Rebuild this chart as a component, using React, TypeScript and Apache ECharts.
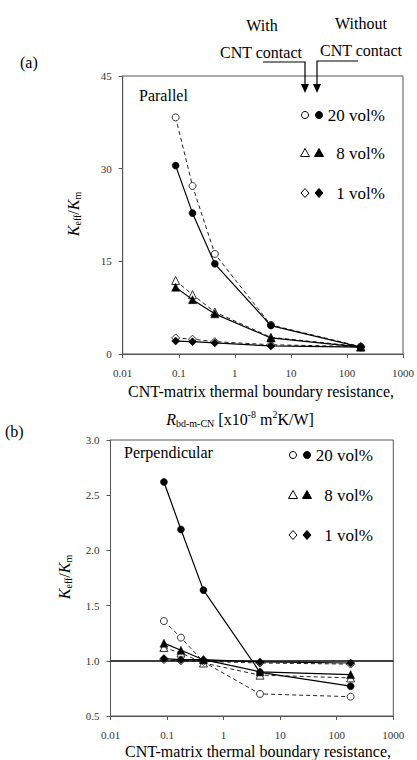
import React, { useEffect, useRef } from "react";
import * as echarts from "echarts";

// R_bd-m-CN values (x10^-8 m2K/W)
const X = [0.088, 0.176, 0.44, 4.4, 176];
const X_TICKS = ["0.01", "0.1", "1", "10", "100", "1000"];

// (a) Parallel
const parOpen20 = [38.3, 27.2, 16.2, 4.7, 1.2];
const parFill20 = [30.5, 22.8, 14.6, 4.6, 1.1];
const parOpen8 = [11.9, 9.6, 6.8, 2.7, 1.2];
const parFill8 = [10.8, 8.8, 6.5, 2.6, 1.1];
const parOpen1 = [2.6, 2.4, 2.0, 1.5, 1.2];
const parFill1 = [2.1, 2.0, 1.8, 1.3, 1.1];

// (b) Perpendicular
const perOpen20 = [1.36, 1.21, 0.99, 0.7, 0.675];
const perFill20 = [2.62, 2.19, 1.64, 0.895, 0.77];
const perOpen8 = [1.12, 1.07, 0.98, 0.87, 0.845];
const perFill8 = [1.16, 1.095, 1.01, 0.9, 0.875];
const perOpen1 = [1.01, 1.0, 0.995, 0.98, 0.97];
const perFill1 = [1.02, 1.01, 1.01, 0.99, 0.98];

const LEGEND = ["20 vol%", "8 vol%", "1 vol%"];
const SYMBOLS = ["circle", "triangle", "diamond"];

const FONT = "Liberation Serif";

function pair(vals: number[]) {
  return X.map((x, i) => [x, vals[i]]);
}

function mkSeries(vals: number[], sym: string, open: boolean, gi: number) {
  return {
    type: "line",
    xAxisIndex: gi,
    yAxisIndex: gi,
    data: pair(vals),
    symbol: sym,
    symbolSize: sym === "circle" ? 7 : 8,
    showSymbol: true,
    z: open ? 3 : 4,
    lineStyle: open
      ? { color: "#222", width: 1, type: [4, 3] }
      : { color: "#000", width: 1.2, type: "solid" },
    itemStyle: open
      ? { color: "#fff", borderColor: "#333", borderWidth: 1 }
      : { color: "#000", borderColor: "#000", borderWidth: 0.5 },
  };
}

function legendEls(symX1: number, symX2: number, textRight: number, ys: number[]) {
  const els: any[] = [];
  ys.forEach((y, i) => {
    const kind = SYMBOLS[i];
    [symX1, symX2].forEach((cx, j) => {
      const filled = j === 1;
      const style = { fill: filled ? "#000" : "#fff", stroke: "#000", lineWidth: 1 };
      if (kind === "circle") {
        els.push({ type: "circle", shape: { cx, cy: y, r: 3.5 }, style });
      } else if (kind === "triangle") {
        els.push({
          type: "polygon",
          shape: { points: [[cx, y - 4.5], [cx - 4.5, y + 3.5], [cx + 4.5, y + 3.5]] },
          style,
        });
      } else {
        els.push({
          type: "polygon",
          shape: { points: [[cx, y - 4.5], [cx + 4, y], [cx, y + 4.5], [cx - 4, y]] },
          style,
        });
      }
    });
    els.push({
      type: "text",
      x: textRight,
      y,
      style: {
        text: LEGEND[i],
        fontFamily: FONT,
        fontSize: 17,
        fill: "#000",
        align: "right",
        verticalAlign: "middle",
      },
    });
  });
  return els;
}

const richSub = {
  i: { fontStyle: "italic", fontFamily: FONT, fontSize: 16, fill: "#000" },
  sub: { fontFamily: FONT, fontSize: 10, padding: [9, 0, 0, 0], fill: "#000" },
  sup: { fontFamily: FONT, fontSize: 10, padding: [0, 0, 9, 0], fill: "#000" },
  n: { fontFamily: FONT, fontSize: 16, fill: "#000" },
};

function xAxis(gi: number) {
  return {
    type: "log",
    gridIndex: gi,
    logBase: 10,
    min: 0.01,
    max: 1000,
    axisLine: { lineStyle: { color: "#555", width: 1 } },
    axisTick: { show: true, inside: false, length: 4, lineStyle: { color: "#555" } },
    axisLabel: {
      margin: 13,
      fontFamily: FONT,
      fontSize: 11,
      color: "#333",
      formatter: (v: number) => {
        const idx = Math.round(Math.log10(v)) + 2;
        return X_TICKS[idx] ?? String(v);
      },
    },
    splitLine: { show: false },
    minorTick: { show: false },
  };
}

function yAxis(gi: number, min: number, max: number, interval: number, dec: number) {
  return {
    type: "value",
    gridIndex: gi,
    min,
    max,
    interval,
    axisLine: { show: true, lineStyle: { color: "#555", width: 1 } },
    axisTick: { show: true, inside: false, length: 4, lineStyle: { color: "#555" } },
    axisLabel: {
      margin: 11,
      fontFamily: FONT,
      fontSize: 11,
      color: "#333",
      formatter: (v: number) => v.toFixed(dec),
    },
    splitLine: { show: false },
  };
}

export default function App() {
  const ref = useRef<HTMLDivElement>(null);
  useEffect(() => {
    if (!ref.current) return;
    const chart = echarts.init(ref.current, undefined, { renderer: "svg" });

    const series: any[] = [
      mkSeries(parOpen20, "circle", true, 0),
      mkSeries(parFill20, "circle", false, 0),
      mkSeries(parOpen8, "triangle", true, 0),
      mkSeries(parFill8, "triangle", false, 0),
      mkSeries(parOpen1, "diamond", true, 0),
      mkSeries(parFill1, "diamond", false, 0),
      {
        type: "line",
        xAxisIndex: 1,
        yAxisIndex: 1,
        data: [],
        markLine: {
          silent: true,
          symbol: ["none", "none"],
          label: { show: false },
          lineStyle: { color: "#000", width: 1.5, type: "solid" },
          data: [{ yAxis: 1 }],
        },
      },
      mkSeries(perOpen20, "circle", true, 1),
      mkSeries(perFill20, "circle", false, 1),
      mkSeries(perOpen8, "triangle", true, 1),
      mkSeries(perFill8, "triangle", false, 1),
      mkSeries(perOpen1, "diamond", true, 1),
      mkSeries(perFill1, "diamond", false, 1),
    ];

    const graphic: any[] = [
      // panel labels
      { type: "text", x: 20, y: 62, style: { text: "(a)", fontFamily: FONT, fontSize: 16, fill: "#000", verticalAlign: "middle" } },
      { type: "text", x: 5, y: 431, style: { text: "(b)", fontFamily: FONT, fontSize: 16, fill: "#000", verticalAlign: "middle" } },
      // contact annotations
      { type: "text", x: 262, y: 25, style: { text: "With", fontFamily: FONT, fontSize: 16, fill: "#000", align: "center", verticalAlign: "middle" } },
      { type: "text", x: 261, y: 52, style: { text: "CNT contact", fontFamily: FONT, fontSize: 16, fill: "#000", align: "center", verticalAlign: "middle" } },
      { type: "text", x: 361, y: 23, style: { text: "Without", fontFamily: FONT, fontSize: 16, fill: "#000", align: "center", verticalAlign: "middle" } },
      { type: "text", x: 361, y: 50, style: { text: "CNT contact", fontFamily: FONT, fontSize: 16, fill: "#000", align: "center", verticalAlign: "middle" } },
      { type: "polyline", shape: { points: [[263, 62], [305, 62], [305, 85]] }, style: { stroke: "#000", lineWidth: 1.2, fill: null } },
      { type: "polyline", shape: { points: [[358, 61], [317, 61], [317, 85]] }, style: { stroke: "#000", lineWidth: 1.2, fill: null } },
      { type: "polygon", shape: { points: [[301, 84], [309, 84], [305, 93]] }, style: { fill: "#000" } },
      { type: "polygon", shape: { points: [[313, 84], [321, 84], [317, 93]] }, style: { fill: "#000" } },
      // panel titles
      { type: "text", x: 139, y: 95, style: { text: "Parallel", fontFamily: FONT, fontSize: 16, fill: "#000", verticalAlign: "middle" } },
      { type: "text", x: 124, y: 452, style: { text: "Perpendicular", fontFamily: FONT, fontSize: 16, fill: "#000", verticalAlign: "middle" } },
      // x titles
      { type: "text", x: 261, y: 391, style: { text: "CNT-matrix thermal boundary resistance,", fontFamily: FONT, fontSize: 16, fill: "#000", align: "center", verticalAlign: "middle" } },
      {
        type: "text",
        x: 240,
        y: 419,
        style: {
          text: "{i|R}{sub|bd-m-CN}{n| [x10}{sup|-8}{n| m}{sup|2}{n|K/W]}",
          rich: richSub,
          fontFamily: FONT,
          fontSize: 16,
          fill: "#000",
          align: "center",
          verticalAlign: "middle",
        },
      },
      { type: "text", x: 258, y: 751, style: { text: "CNT-matrix thermal boundary resistance,", fontFamily: FONT, fontSize: 16, fill: "#000", align: "center", verticalAlign: "middle" } },
      // y titles
      {
        type: "text",
        x: 73,
        y: 214,
        rotation: Math.PI / 2,
        style: { text: "{i|K}{sub|eff}{n|/}{i|K}{sub|m}", rich: richSub, fontFamily: FONT, fontSize: 16, fill: "#000", align: "center", verticalAlign: "middle" },
      },
      {
        type: "text",
        x: 64,
        y: 577,
        rotation: Math.PI / 2,
        style: { text: "{i|K}{sub|eff}{n|/}{i|K}{sub|m}", rich: richSub, fontFamily: FONT, fontSize: 16, fill: "#000", align: "center", verticalAlign: "middle" },
      },
      ...legendEls(305, 319, 385, [115, 153, 193]),
      ...legendEls(293, 307, 373, [455, 495, 535]),
    ];

    chart.setOption({
      animation: false,
      backgroundColor: "#fff",
      grid: [
        { left: 122.7, top: 76, width: 280.6, height: 278, show: true, borderColor: "#555", borderWidth: 1, backgroundColor: "transparent" },
        { left: 110.5, top: 440, width: 282.8, height: 276, show: true, borderColor: "#555", borderWidth: 1, backgroundColor: "transparent" },
      ],
      xAxis: [xAxis(0), xAxis(1)],
      yAxis: [yAxis(0, 0, 45, 15, 0), yAxis(1, 0.5, 3.0, 0.5, 1)],
      series,
      graphic,
    });
    return () => chart.dispose();
  }, []);

  return (
    <div
      ref={ref}
      style={{ position: "fixed", left: 0, top: 0, width: 417, height: 760, background: "#fff" }}
    />
  );
}
